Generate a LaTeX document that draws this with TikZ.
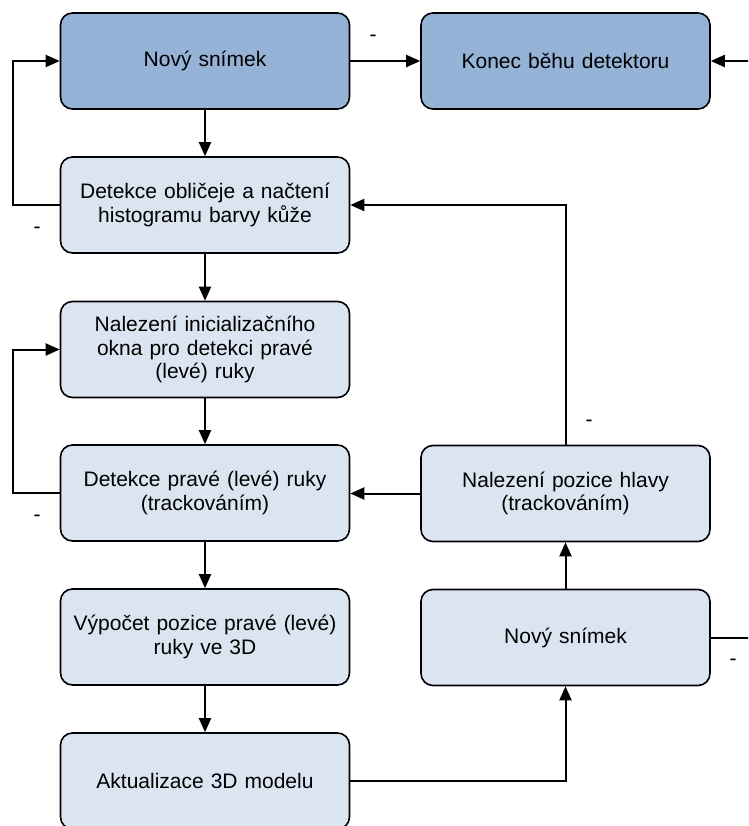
\documentclass[tikz,border=0pt]{standalone}
\usepackage{fontspec}
\setmainfont{Liberation Sans}
\usetikzlibrary{arrows.meta}
\definecolor{boxdark}{HTML}{95B3D7}
\definecolor{boxlight}{HTML}{DBE5F1}
\begin{document}
\begin{tikzpicture}[x=1pt, y=-1pt,
  box/.style={draw=black, line width=1.6pt, rounded corners=12pt,
    minimum width=289pt, minimum height=96pt, inner sep=0pt,
    text width=285pt, align=center,
    font=\fontsize{21}{23.5}\selectfont},
  startbox/.style={box, fill=boxdark},
  stepbox/.style={box, fill=boxlight},
  arr/.style={line width=2pt, -{Triangle[length=14pt, width=12pt]}},
  minus/.style={font=\fontsize{21}{23.5}\selectfont, inner sep=0pt}]
\useasboundingbox (0,0) rectangle (748,826);
\clip (0,0) rectangle (748,826);
\fill[white] (0,0) rectangle (748,826);

% left column
\node[startbox] (novy) at (205,61) {Nový snímek};
\node[stepbox] (oblicej) at (205,205) {Detekce obličeje a načtení\\histogramu barvy kůže};
\node[stepbox] (init) at (205,349.5) {Nalezení inicializačního\\okna pro detekci pravé\\(levé) ruky};
\node[stepbox] (ruka) at (205,493) {Detekce pravé (levé) ruky\\(trackováním)};
\node[stepbox] (vypocet) at (205,637) {Výpočet pozice pravé (levé)\\ruky ve 3D};
\node[stepbox] (model) at (205,781) {Aktualizace 3D modelu};

% right column
\node[startbox] (konec) at (565.5,61) {Konec běhu detektoru};
\node[stepbox] (hlava) at (565.5,493.5) {Nalezení pozice hlavy\\(trackováním)};
\node[stepbox] (snimek) at (565.5,637.5) {Nový snímek};

% main flow
\draw[arr] (novy) -- (oblicej);
\draw[arr] (oblicej) -- (init);
\draw[arr] (init) -- (ruka);
\draw[arr] (ruka) -- (vypocet);
\draw[arr] (vypocet) -- (model);
\draw[arr] (model.east) -| (snimek.south);
\draw[arr] (snimek) -- (hlava);
\draw[arr] (hlava.west) -- (ruka.east |- hlava.west);
\draw[arr] (hlava.north) |- (oblicej.east);

% failure branches
\draw[arr] (novy.east) -- (konec.west);
\draw[arr] (oblicej.west) -- ++(-47,0) |- (novy.west);
\draw[arr] (ruka.west) -- ++(-47,0) |- (init.west);
\draw[arr] (snimek.east) -- ++(80,0) |- (konec.east);

% branch labels
\node[minus] (m1) at (373,38) {-};
\node[minus] (m2) at (37,230) {-};
\node[minus] (m3) at (37,518) {-};
\node[minus] (m4) at (589,423) {-};
\node[minus] (m5) at (733,662) {-};
\end{tikzpicture}
\end{document}
